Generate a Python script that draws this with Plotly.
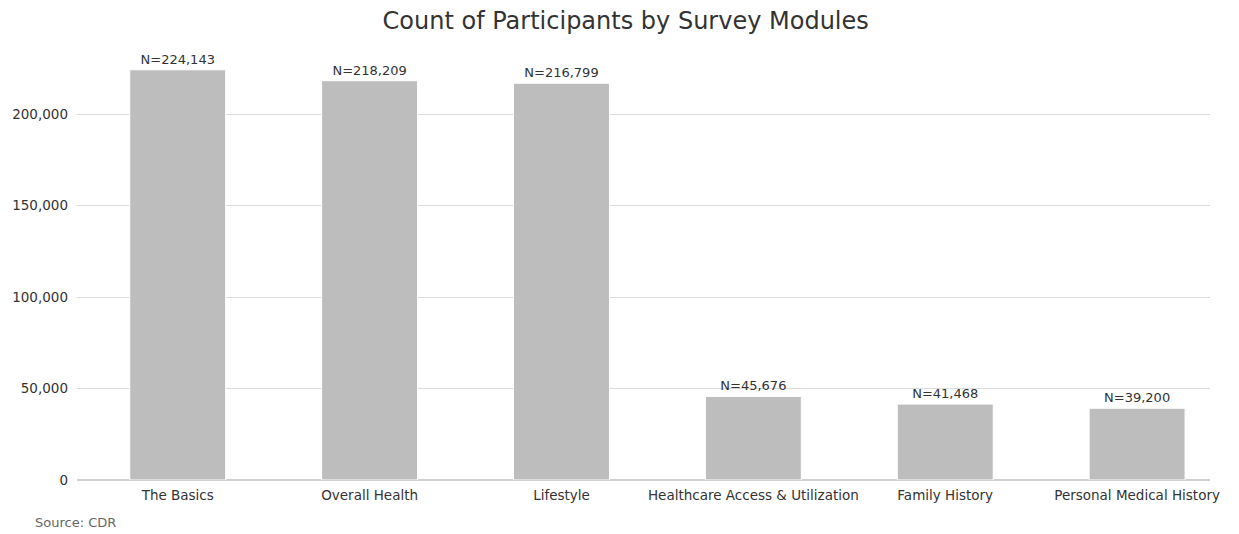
import plotly.graph_objects as go

modules = ["The Basics", "Overall Health", "Lifestyle",
           "Healthcare Access & Utilization", "Family History",
           "Personal Medical History"]
participants = [224143, 218209, 216799, 45676, 41468, 39200]
y_ticks = [0, 50000, 100000, 150000, 200000]
y_tick_labels = ["0", "50,000", "100,000", "150,000", "200,000"]

FONT = "DejaVu Sans"
TEXT_COLOR = "#262626"

fig = go.Figure(go.Bar(
    x=list(range(len(modules))),
    y=participants,
    width=0.5,
    marker=dict(color="#bdbdbd", line=dict(color="white", width=1)),
    text=[f"N={v:,}" for v in participants],
    textposition="outside",
    textfont=dict(family=FONT, size=13, color="#333333"),
    cliponaxis=False,
))

fig.update_layout(
    width=1239, height=534,
    margin=dict(l=75, r=29, t=58, b=54),
    paper_bgcolor="white", plot_bgcolor="white",
    font=dict(family=FONT, size=13, color=TEXT_COLOR),
    title=dict(text="Count of Participants by Survey Modules",
               x=0.505, xanchor="center", y=0.962, yanchor="middle",
               font=dict(family=FONT, size=24, color="#333333")),
    showlegend=False,
    xaxis=dict(
        range=[-0.525, 5.38],
        tickmode="array", tickvals=list(range(len(modules))), ticktext=modules,
        showgrid=False, showline=False, zeroline=False, ticks="",
        ticklabelstandoff=5,
        tickfont=dict(family=FONT, size=13.5, color="#333333"),
    ),
    yaxis=dict(
        range=[0, 230600],
        tickmode="array", tickvals=y_ticks, ticktext=y_tick_labels,
        showgrid=True, gridcolor="#dcdcdc", gridwidth=1,
        zeroline=True, zerolinecolor="#d0d0d0", zerolinewidth=2,
        showline=False, ticks="", ticklabelstandoff=8,
        tickfont=dict(family=FONT, size=13.5, color="#333333"),
    ),
    annotations=[dict(
        text="Source: CDR", xref="paper", yref="paper",
        x=-0.039, y=-0.078, xanchor="left", yanchor="top", showarrow=False,
        font=dict(family=FONT, size=13, color="#666666"),
    )],
)

fig.write_html("out.html")
